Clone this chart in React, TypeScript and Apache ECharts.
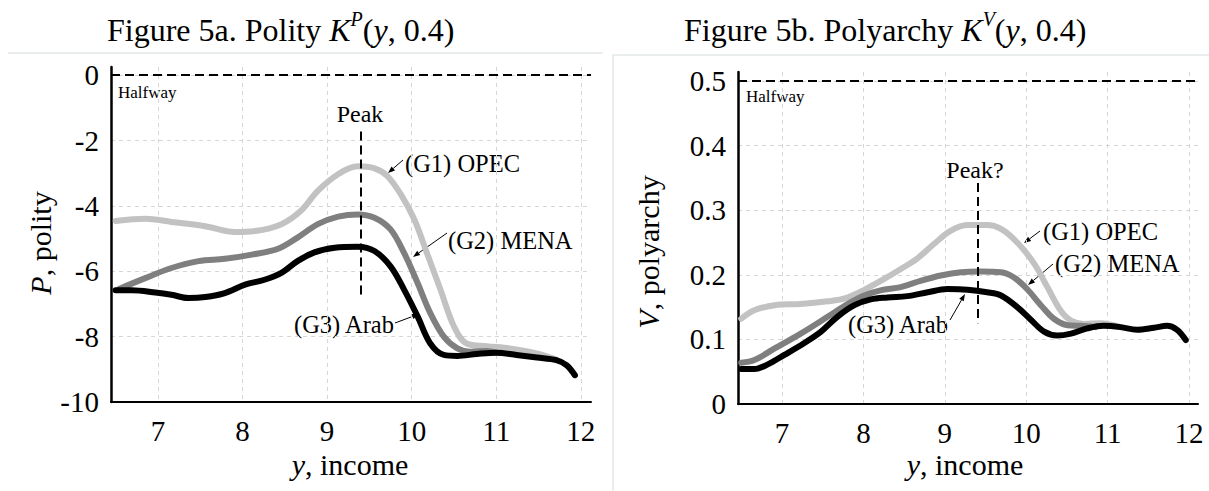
import React, { useEffect, useRef } from "react";
import * as echarts from "echarts";

const FONT = "'Liberation Serif', 'Times New Roman', serif";

const xTicks = [7, 8, 9, 10, 11, 12];
const polityTicks = [-10, -8, -6, -4, -2, 0];
const polyarchyTicks = [0, 0.1, 0.2, 0.3, 0.4, 0.5];

const seriesNames = ["(G1) OPEC", "(G2) MENA", "(G3) Arab"];
const seriesColors = ["#c2c2c2", "#7f7f7f", "#000000"];

// Figure 5a: polity P, [income y, value]
const polityOpec = [
  [6.5, -4.46], [6.85, -4.39], [7.16, -4.49], [7.56, -4.62], [7.91, -4.8], [8.15, -4.77],
  [8.46, -4.56], [8.69, -4.15], [8.89, -3.54], [9.13, -3.03], [9.36, -2.79], [9.56, -2.85],
  [9.71, -3.08], [9.87, -3.64], [10.03, -4.41], [10.18, -5.44], [10.34, -6.56], [10.5, -7.69],
  [10.65, -8.21], [10.89, -8.29], [11.16, -8.36], [11.48, -8.51], [11.71, -8.7],
];
const polityMena = [
  [6.54, -6.54], [6.85, -6.21], [7.16, -5.9], [7.48, -5.69], [7.79, -5.62], [8.11, -5.49],
  [8.42, -5.31], [8.65, -4.97], [8.89, -4.56], [9.13, -4.33], [9.36, -4.26], [9.56, -4.36],
  [9.75, -4.72], [9.91, -5.44], [10.07, -6.36], [10.22, -7.28], [10.38, -8.0], [10.54, -8.36],
  [10.69, -8.46], [10.89, -8.44], [11.0, -8.49],
];
const polityArab = [
  [6.5, -6.58], [6.69, -6.58], [6.97, -6.65], [7.16, -6.72], [7.36, -6.82], [7.56, -6.79],
  [7.79, -6.67], [8.03, -6.41], [8.26, -6.26], [8.46, -6.05], [8.65, -5.69], [8.85, -5.42],
  [9.09, -5.28], [9.36, -5.25], [9.56, -5.38], [9.75, -5.85], [9.91, -6.56], [10.07, -7.38],
  [10.22, -8.21], [10.38, -8.56], [10.54, -8.59], [10.77, -8.53], [11.0, -8.49], [11.24, -8.56],
  [11.48, -8.64], [11.71, -8.72], [11.83, -8.87], [11.93, -9.18],
];

// Figure 5b: polyarchy V, [income y, value]
const polyarchyOpec = [
  [6.5, 0.132], [6.66, 0.145], [6.91, 0.153], [7.23, 0.155], [7.56, 0.159], [7.76, 0.163],
  [8.0, 0.176], [8.26, 0.194], [8.46, 0.209], [8.66, 0.225], [8.87, 0.248], [9.07, 0.268],
  [9.28, 0.277], [9.52, 0.277], [9.69, 0.271], [9.89, 0.25], [10.1, 0.217], [10.26, 0.181],
  [10.42, 0.145], [10.55, 0.129], [10.71, 0.124], [10.91, 0.125], [11.16, 0.119],
];
const polyarchyMena = [
  [6.5, 0.064], [6.66, 0.068], [6.91, 0.086], [7.23, 0.109], [7.56, 0.135], [7.81, 0.155],
  [8.01, 0.168], [8.21, 0.176], [8.46, 0.181], [8.71, 0.191], [8.95, 0.199], [9.2, 0.204],
  [9.44, 0.205], [9.69, 0.204], [9.85, 0.196], [10.01, 0.178], [10.18, 0.153], [10.34, 0.132],
  [10.51, 0.122], [10.67, 0.121], [10.85, 0.119],
];
const polyarchyArab = [
  [6.5, 0.054], [6.66, 0.054], [6.82, 0.061], [7.03, 0.076], [7.27, 0.094], [7.48, 0.112],
  [7.68, 0.135], [7.89, 0.153], [8.09, 0.162], [8.3, 0.165], [8.54, 0.167], [8.79, 0.173],
  [9.03, 0.178], [9.28, 0.177], [9.52, 0.173], [9.69, 0.168], [9.89, 0.15], [10.06, 0.13],
  [10.22, 0.112], [10.38, 0.106], [10.55, 0.109], [10.75, 0.117], [10.95, 0.121], [11.16, 0.119],
  [11.36, 0.115], [11.57, 0.118], [11.73, 0.121], [11.85, 0.115], [11.96, 0.099],
];

const peakX = 9.4;
const polityPeakSpan = [-1.72, -6.8];
const polyarchyPeakSpan = [0.342, 0.125];
const polityHalfway = 0;
const polyarchyHalfway = 0.5;

function arrow(x1: number, y1: number, x2: number, y2: number) {
  const ang = Math.atan2(y2 - y1, x2 - x1);
  const L = 7;
  const W = 2.6;
  const bx = x2 - L * Math.cos(ang);
  const by = y2 - L * Math.sin(ang);
  const px = -Math.sin(ang) * W;
  const py = Math.cos(ang) * W;
  return [
    { type: "line", shape: { x1, y1, x2: bx, y2: by }, style: { stroke: "#000", lineWidth: 1 } },
    {
      type: "polygon",
      shape: { points: [[x2, y2], [bx + px, by + py], [bx - px, by - py]] },
      style: { fill: "#000" },
    },
  ];
}

function text(t: string, x: number, y: number, size: number, align = "left") {
  return {
    type: "text",
    x,
    y,
    style: {
      text: t,
      fontSize: size,
      fontFamily: FONT,
      fill: "#000",
      align,
      verticalAlign: "middle",
    },
  };
}

function richTitle(main: string, sup: string, x: number, y: number) {
  return {
    type: "text",
    x,
    y,
    style: {
      text: `${main} {i|K}{sup|${sup}}({i|y}, 0.4)`,
      fontSize: 32,
      fontFamily: FONT,
      fill: "#000",
      align: "left",
      verticalAlign: "middle",
      lineHeight: 42,
      rich: {
        i: { fontStyle: "italic", fontSize: 32, fontFamily: FONT, lineHeight: 42 },
        sup: { fontStyle: "italic", fontSize: 20, fontFamily: FONT, lineHeight: 24, verticalAlign: "top" },
      },
    },
  };
}

function axisName(label: string, rest: string, x: number, y: number, rotate: boolean) {
  return {
    type: "text",
    x,
    y,
    rotation: rotate ? Math.PI / 2 : 0,
    style: {
      text: `{i|${label}}${rest}`,
      fontSize: 30,
      fontFamily: FONT,
      fill: "#000",
      align: "center",
      verticalAlign: "middle",
      rich: { i: { fontStyle: "italic", fontSize: 30, fontFamily: FONT } },
    },
  };
}

const gridLine = { show: true, lineStyle: { color: "#d6d6d6", type: [4, 4], width: 1 } };

function xAxisCfg(gridIndex: number, min: number, max: number) {
  return {
    type: "value",
    gridIndex,
    min,
    max,
    axisLine: { show: true, onZero: false, lineStyle: { color: "#000", width: 2 } },
    axisTick: { show: false, customValues: xTicks },
    axisLabel: { customValues: xTicks, fontFamily: FONT, fontSize: 29, color: "#000", margin: 14 },
    splitLine: gridLine,
  };
}

function yAxisCfg(gridIndex: number, min: number, max: number, ticks: number[]) {
  return {
    type: "value",
    gridIndex,
    min,
    max,
    axisLine: { show: true, onZero: false, lineStyle: { color: "#000", width: 2.5 } },
    axisTick: { show: false, customValues: ticks },
    axisLabel: { customValues: ticks, fontFamily: FONT, fontSize: 29, color: "#000", margin: 12 },
    splitLine: gridLine,
  };
}

function lineSeries(data: number[][], idx: number, axisIndex: number, extra: any = {}) {
  return {
    type: "line",
    name: seriesNames[idx],
    xAxisIndex: axisIndex,
    yAxisIndex: axisIndex,
    data,
    smooth: 0.35,
    showSymbol: false,
    symbol: "none",
    lineStyle: { color: seriesColors[idx], width: 6, cap: "round", join: "round" },
    z: 3 + idx,
    ...extra,
  };
}

function refLines(halfway: number, span: number[]) {
  return {
    silent: true,
    symbol: "none",
    label: { show: false },
    lineStyle: { color: "#000", type: [9, 5], width: 2 },
    data: [
      { yAxis: halfway },
      [{ coord: [peakX, span[0]] }, { coord: [peakX, span[1]] }],
    ],
  };
}

export default function App() {
  const ref = useRef<HTMLDivElement>(null);
  useEffect(() => {
    const chart = echarts.init(ref.current!, undefined, { renderer: "svg" });
    const option: any = {
      animation: false,
      backgroundColor: "#fff",
      grid: [
        { left: 111, top: 67, width: 480, height: 335 },
        { left: 738, top: 72, width: 460, height: 332 },
      ],
      xAxis: [xAxisCfg(0, 6.445, 12.12), xAxisCfg(1, 6.46, 12.11)],
      yAxis: [yAxisCfg(0, -10, 0.25, polityTicks), yAxisCfg(1, 0, 0.514, polyarchyTicks)],
      series: [
        lineSeries(polityOpec, 0, 0),
        lineSeries(polityMena, 1, 0),
        lineSeries(polityArab, 2, 0, { markLine: refLines(polityHalfway, polityPeakSpan) }),
        lineSeries(polyarchyOpec, 0, 1),
        lineSeries(polyarchyMena, 1, 1),
        lineSeries(polyarchyArab, 2, 1, { markLine: refLines(polyarchyHalfway, polyarchyPeakSpan) }),
      ],
      graphic: [
        { type: "line", shape: { x1: 8, y1: 53, x2: 603, y2: 53 }, style: { stroke: "#e3e9e9", lineWidth: 1.5 } },
        { type: "rect", shape: { x: 613, y: 55, width: 640, height: 480 }, style: { fill: "none", stroke: "#e3e9e9", lineWidth: 1.5 } },
        richTitle("Figure 5a. Polity", "P", 107, 30),
        richTitle("Figure 5b. Polyarchy", "V", 684, 30),
        axisName("y", ", income", 350, 464, false),
        axisName("y", ", income", 965, 464, false),
        axisName("P", ", polity", 40, 243, true),
        axisName("V", ", polyarchy", 648, 252, true),
        text("Halfway", 118, 92, 17),
        text("Halfway", 746, 96, 17),
        text("Peak", 360, 114, 24, "center"),
        text("Peak?", 975, 170, 24, "center"),
        text("(G1) OPEC", 405, 163, 24.5),
        text("(G2) MENA", 448, 240, 24.5),
        text("(G3) Arab", 394, 324, 24.5, "right"),
        text("(G1) OPEC", 1043, 231, 24.5),
        text("(G2) MENA", 1055, 263, 24.5),
        text("(G3) Arab", 948, 324, 24.5, "right"),
        ...arrow(403, 160, 388, 173),
        ...arrow(447, 233, 413, 257),
        ...arrow(395, 323, 419, 314),
        ...arrow(1040, 231, 1024, 243),
        ...arrow(1053, 264, 1028, 285),
        ...arrow(950, 320, 965, 294),
      ],
    };
    chart.setOption(option);
    return () => chart.dispose();
  }, []);
  return (
    <div
      ref={ref}
      style={{ position: "fixed", left: 0, top: 0, width: 1209, height: 491, background: "#fff" }}
    />
  );
}
